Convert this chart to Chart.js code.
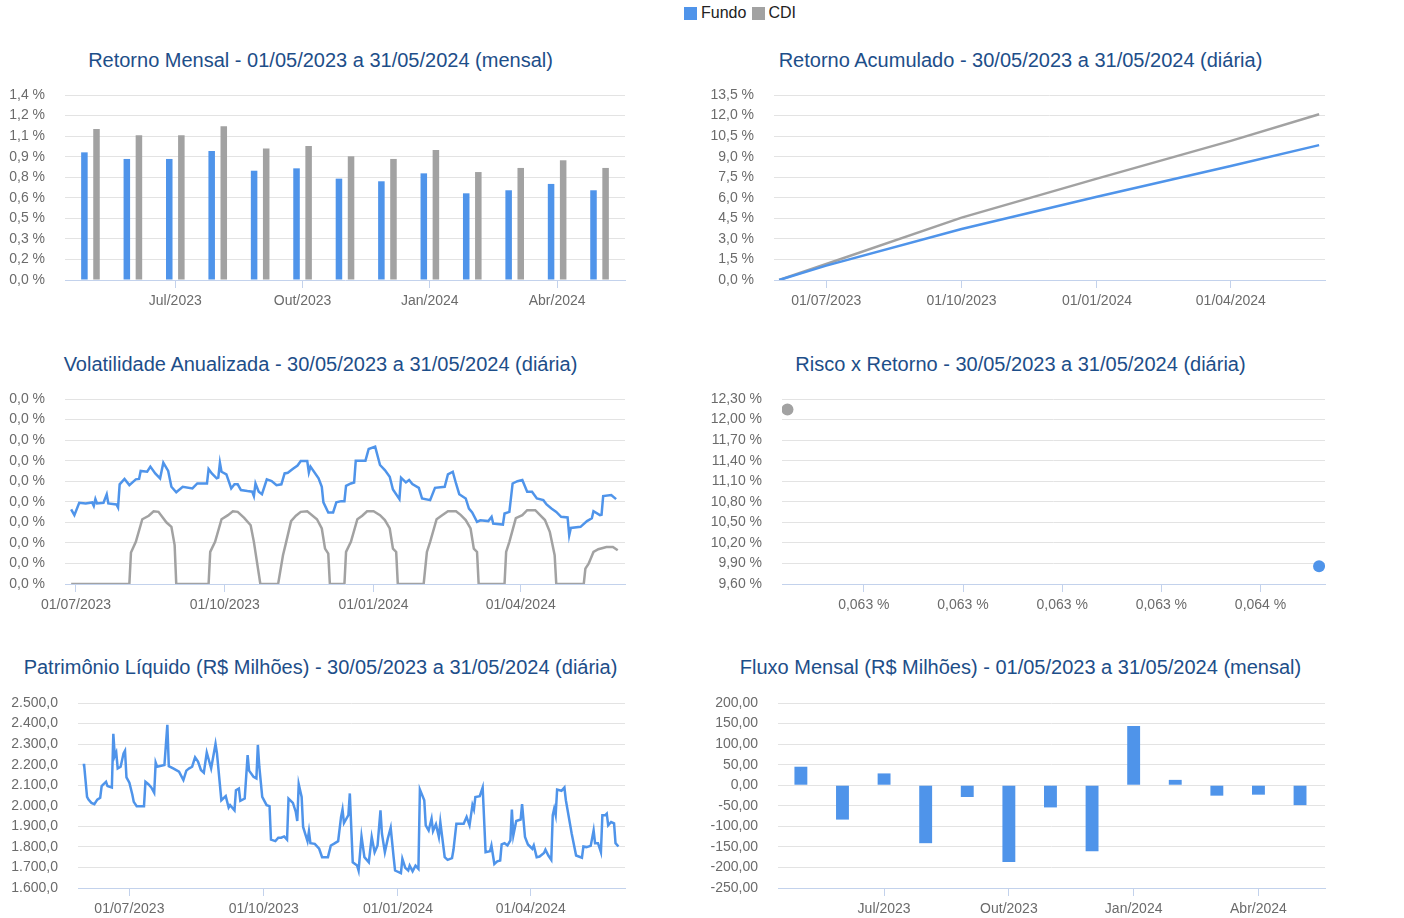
<!DOCTYPE html>
<html><head><meta charset="utf-8">
<script src="https://cdn.jsdelivr.net/npm/chart.js@4.4.1/dist/chart.umd.min.js"></script>
<style>
html,body{margin:0;padding:0;background:#fff;width:1404px;height:918px;overflow:hidden;font-family:"Liberation Sans",Arial,sans-serif;}
canvas{position:absolute;}
.title{position:absolute;width:641px;text-align:center;font-size:20px;line-height:24px;color:#1d4e89;white-space:nowrap;}
.legend{position:absolute;left:684px;top:3px;font-size:16px;line-height:20px;color:#222;display:flex;align-items:center;white-space:nowrap;}
.sw{display:inline-block;width:13px;height:13px;}
</style></head><body>
<div class="legend"><span class="sw" style="background:#4f94ea;margin-right:4px"></span>Fundo<span class="sw" style="background:#a2a2a2;margin-left:6px;margin-right:3px"></span>CDI</div>
<div class="title" style="left:0;top:48px">Retorno Mensal - 01/05/2023 a 31/05/2024 (mensal)</div>
<div class="title" style="left:700px;top:48px">Retorno Acumulado - 30/05/2023 a 31/05/2024 (diária)</div>
<div class="title" style="left:0;top:352px">Volatilidade Anualizada - 30/05/2023 a 31/05/2024 (diária)</div>
<div class="title" style="left:700px;top:352px">Risco x Retorno - 30/05/2023 a 31/05/2024 (diária)</div>
<div class="title" style="left:0;top:655px">Patrimônio Líquido (R$ Milhões) - 30/05/2023 a 31/05/2024 (diária)</div>
<div class="title" style="left:700px;top:655px">Fluxo Mensal (R$ Milhões) - 01/05/2023 a 31/05/2024 (mensal)</div>
<canvas id="c1" width="635" height="240" style="left:0;top:80px"></canvas>
<canvas id="c2" width="635" height="240" style="left:700px;top:80px"></canvas>
<canvas id="c3" width="635" height="240" style="left:0;top:384px"></canvas>
<canvas id="c4" width="635" height="240" style="left:700px;top:384px"></canvas>
<canvas id="c5" width="635" height="240" style="left:0;top:688px"></canvas>
<canvas id="c6" width="635" height="240" style="left:700px;top:688px"></canvas>
<script>
// ---------- DATA ----------
const months = ['Mai/2023','Jun/2023','Jul/2023','Ago/2023','Set/2023','Out/2023','Nov/2023','Dez/2023','Jan/2024','Fev/2024','Mar/2024','Abr/2024','Mai/2024'];
const monthTickIdx = [2,5,8,11];
const retFundo = [0.966,0.916,0.916,0.976,0.827,0.845,0.767,0.747,0.807,0.656,0.679,0.727,0.679];
const retCDI   = [1.143,1.095,1.095,1.163,0.996,1.014,0.936,0.916,0.984,0.817,0.848,0.906,0.848];
const retTicksY = [0,0.1556,0.3111,0.4667,0.6222,0.7778,0.9333,1.0889,1.2444,1.4];

const acumDates = ['2023-05-30','2023-07-01','2023-10-01','2024-01-01','2024-04-01','2024-05-31'];
const acumFundo = [0,1.05,3.72,6.08,8.32,9.84];
const acumCDI   = [0,1.17,4.55,7.40,10.15,12.10];
const acumTicksY = [0,1.5,3,4.5,6,7.5,9,10.5,12,13.5];

const dateTicks = ['2023-07-01','2023-10-01','2024-01-01','2024-04-01'];
const dateTickLabels = ['01/07/2023','01/10/2023','01/01/2024','01/04/2024'];

const volFundoDates = ['2023-06-28','2023-06-30','2023-07-03','2023-07-07','2023-07-11','2023-07-12','2023-07-13','2023-07-14','2023-07-18','2023-07-20','2023-07-21','2023-07-26','2023-07-27','2023-07-28','2023-07-31','2023-08-03','2023-08-07','2023-08-09','2023-08-10','2023-08-14','2023-08-16','2023-08-19','2023-08-22','2023-08-24','2023-08-27','2023-08-29','2023-09-01','2023-09-05','2023-09-11','2023-09-14','2023-09-20','2023-09-21','2023-09-23','2023-09-26','2023-09-27','2023-09-28','2023-09-29','2023-10-02','2023-10-05','2023-10-07','2023-10-09','2023-10-11','2023-10-15','2023-10-18','2023-10-19','2023-10-20','2023-10-22','2023-10-24','2023-10-27','2023-10-30','2023-11-02','2023-11-05','2023-11-07','2023-11-09','2023-11-12','2023-11-15','2023-11-17','2023-11-21','2023-11-22','2023-11-23','2023-11-28','2023-11-30','2023-12-01','2023-12-04','2023-12-07','2023-12-09','2023-12-12','2023-12-14','2023-12-15','2023-12-18','2023-12-20','2023-12-21','2023-12-27','2023-12-29','2024-01-02','2024-01-05','2024-01-08','2024-01-11','2024-01-13','2024-01-17','2024-01-18','2024-01-21','2024-01-23','2024-01-25','2024-01-29','2024-01-31','2024-02-05','2024-02-08','2024-02-14','2024-02-16','2024-02-19','2024-02-21','2024-02-23','2024-02-27','2024-02-29','2024-03-02','2024-03-05','2024-03-07','2024-03-12','2024-03-14','2024-03-15','2024-03-21','2024-03-22','2024-03-25','2024-03-27','2024-03-30','2024-04-02','2024-04-05','2024-04-08','2024-04-11','2024-04-15','2024-04-17','2024-04-20','2024-04-23','2024-04-26','2024-04-30','2024-05-01','2024-05-02','2024-05-08','2024-05-12','2024-05-15','2024-05-16','2024-05-20','2024-05-21','2024-05-22','2024-05-27','2024-05-30'];
const volFundo = [0.00363,0.00335,0.00395,0.00392,0.00397,0.00380,0.00413,0.00392,0.00395,0.00436,0.00392,0.00387,0.00372,0.00485,0.00511,0.00481,0.00509,0.00511,0.00550,0.00546,0.00571,0.00538,0.00514,0.00590,0.00550,0.00473,0.00446,0.00473,0.00465,0.00489,0.00489,0.00559,0.00538,0.00514,0.00517,0.00590,0.00546,0.00533,0.00465,0.00485,0.00485,0.00457,0.00452,0.00449,0.00428,0.00489,0.00449,0.00437,0.00509,0.00501,0.00481,0.00485,0.00538,0.00541,0.00559,0.00576,0.00598,0.00598,0.00543,0.00571,0.00514,0.00473,0.00397,0.00348,0.00348,0.00397,0.00403,0.00403,0.00478,0.00489,0.00494,0.00600,0.00600,0.00657,0.00668,0.00579,0.00554,0.00522,0.00460,0.00413,0.00517,0.00494,0.00506,0.00486,0.00468,0.00416,0.00408,0.00468,0.00473,0.00533,0.00546,0.00489,0.00437,0.00416,0.00367,0.00348,0.00302,0.00310,0.00306,0.00327,0.00294,0.00289,0.00343,0.00351,0.00489,0.00500,0.00506,0.00449,0.00449,0.00416,0.00408,0.00387,0.00367,0.00351,0.00327,0.00324,0.00237,0.00273,0.00278,0.00306,0.00320,0.00354,0.00335,0.00337,0.00428,0.00433,0.00413];

const volCdiDates = ['2023-06-28','2023-08-03','2023-08-04','2023-08-07','2023-08-11','2023-08-15','2023-08-18','2023-08-21','2023-08-26','2023-08-29','2023-08-31','2023-09-01','2023-09-21','2023-09-22','2023-09-25','2023-09-29','2023-10-03','2023-10-06','2023-10-09','2023-10-13','2023-10-17','2023-10-19','2023-10-23','2023-11-03','2023-11-06','2023-11-08','2023-11-11','2023-11-14','2023-11-17','2023-11-21','2023-11-27','2023-11-30','2023-12-02','2023-12-04','2023-12-05','2023-12-14','2023-12-15','2023-12-18','2023-12-22','2023-12-25','2023-12-28','2024-01-01','2024-01-05','2024-01-08','2024-01-11','2024-01-13','2024-01-15','2024-01-16','2024-02-01','2024-02-03','2024-02-05','2024-02-09','2024-02-12','2024-02-16','2024-02-21','2024-02-24','2024-02-27','2024-03-01','2024-03-03','2024-03-05','2024-03-06','2024-03-22','2024-03-23','2024-03-25','2024-03-29','2024-04-02','2024-04-05','2024-04-10','2024-04-13','2024-04-16','2024-04-19','2024-04-22','2024-04-23','2024-05-10','2024-05-11','2024-05-13','2024-05-16','2024-05-19','2024-05-24','2024-05-28','2024-05-31'];
const volCdi = [0,0,0.00153,0.00205,0.00315,0.00332,0.00354,0.00351,0.00299,0.00278,0.00189,0,0,0.00156,0.00205,0.00315,0.00335,0.00354,0.00351,0.00322,0.00286,0.00205,0,0,0.00140,0.00205,0.00306,0.00332,0.00351,0.00354,0.00315,0.00270,0.00172,0.00148,0,0,0.00156,0.00205,0.00315,0.00332,0.00354,0.00354,0.00335,0.00311,0.00270,0.00172,0.00156,0,0,0.00156,0.00205,0.00315,0.00332,0.00354,0.00354,0.00335,0.00311,0.00270,0.00172,0.00156,0,0,0.00156,0.00205,0.00320,0.00335,0.00359,0.00359,0.00335,0.00311,0.00254,0.00140,0,0,0.00075,0.00099,0.00156,0.00169,0.00180,0.00180,0.00164];
const volTicksY = [0,0.001,0.002,0.003,0.004,0.005,0.006,0.007,0.008,0.009];

const riscoX = [0.063718, 0.062646];   // Fundo, CDI
const riscoY = [9.86, 12.147];
const riscoTicksX = [0.0628,0.0630,0.0632,0.0634,0.0636];
const riscoTicksY = [9.6,9.9,10.2,10.5,10.8,11.1,11.4,11.7,12.0,12.3];

const plDates = ['2023-05-30','2023-05-31','2023-06-02','2023-06-03','2023-06-05','2023-06-07','2023-06-09','2023-06-11','2023-06-12','2023-06-15','2023-06-16','2023-06-19','2023-06-20','2023-06-21','2023-06-22','2023-06-23','2023-06-25','2023-06-27','2023-06-28','2023-06-29','2023-07-01','2023-07-03','2023-07-04','2023-07-06','2023-07-11','2023-07-12','2023-07-14','2023-07-16','2023-07-18','2023-07-19','2023-07-20','2023-07-25','2023-07-27','2023-07-28','2023-07-31','2023-08-04','2023-08-07','2023-08-09','2023-08-11','2023-08-13','2023-08-15','2023-08-17','2023-08-19','2023-08-21','2023-08-23','2023-08-26','2023-08-29','2023-08-30','2023-09-02','2023-09-05','2023-09-07','2023-09-08','2023-09-11','2023-09-12','2023-09-14','2023-09-15','2023-09-18','2023-09-20','2023-09-21','2023-09-24','2023-09-26','2023-09-27','2023-09-28','2023-09-30','2023-10-03','2023-10-05','2023-10-06','2023-10-09','2023-10-11','2023-10-13','2023-10-15','2023-10-17','2023-10-18','2023-10-21','2023-10-23','2023-10-24','2023-10-25','2023-10-27','2023-10-28','2023-10-31','2023-11-01','2023-11-02','2023-11-05','2023-11-08','2023-11-10','2023-11-14','2023-11-16','2023-11-18','2023-11-21','2023-11-23','2023-11-24','2023-11-25','2023-11-28','2023-11-29','2023-12-01','2023-12-04','2023-12-05','2023-12-07','2023-12-09','2023-12-12','2023-12-14','2023-12-16','2023-12-18','2023-12-20','2023-12-21','2023-12-23','2023-12-25','2023-12-27','2023-12-29','2023-12-30','2024-01-03','2024-01-04','2024-01-06','2024-01-08','2024-01-09','2024-01-11','2024-01-13','2024-01-15','2024-01-16','2024-01-19','2024-01-20','2024-01-22','2024-01-24','2024-01-25','2024-01-27','2024-01-29','2024-01-30','2024-02-02','2024-02-04','2024-02-07','2024-02-08','2024-02-10','2024-02-15','2024-02-17','2024-02-19','2024-02-21','2024-02-22','2024-02-23','2024-02-26','2024-02-28','2024-03-01','2024-03-04','2024-03-05','2024-03-07','2024-03-09','2024-03-11','2024-03-12','2024-03-14','2024-03-16','2024-03-18','2024-03-19','2024-03-20','2024-03-22','2024-03-25','2024-03-26','2024-03-28','2024-03-30','2024-04-02','2024-04-03','2024-04-05','2024-04-07','2024-04-10','2024-04-11','2024-04-13','2024-04-15','2024-04-16','2024-04-17','2024-04-18','2024-04-19','2024-04-22','2024-04-24','2024-04-25','2024-04-29','2024-05-02','2024-05-06','2024-05-07','2024-05-09','2024-05-12','2024-05-14','2024-05-15','2024-05-17','2024-05-19','2024-05-20','2024-05-22','2024-05-23','2024-05-24','2024-05-26','2024-05-28','2024-05-29','2024-05-31'];
const plFundo = [2198,2198,2043,2030,2014,2008,2030,2039,2096,2117,2096,2089,2350,2242,2259,2182,2190,2255,2268,2138,2112,2055,2019,1998,1998,2117,2105,2089,2063,2210,2190,2198,2394,2193,2182,2166,2125,2171,2182,2190,2236,2215,2174,2161,2259,2182,2301,2255,2027,2047,1991,2003,1978,2076,2084,2024,2035,2247,2171,2141,2133,2296,2190,2043,2003,1998,1835,1828,1845,1845,1851,1835,2035,2014,1970,1926,2105,2043,1897,1828,1876,1818,1815,1791,1750,1750,1807,1815,1828,1946,1982,1916,1954,2060,1725,1709,1685,1851,1750,1725,1848,1774,1807,1978,1864,1774,1840,1893,1750,1685,1672,1742,1698,1685,1709,1681,1709,1693,2079,2027,1905,1880,1937,1877,1910,1848,1921,1750,1737,1745,1786,1913,1913,1946,1905,2003,1982,2043,2047,2089,1774,1779,1807,1717,1730,1734,1812,1818,1807,1832,1982,1856,1926,1933,2008,1848,1812,1791,1807,1750,1753,1770,1786,1758,1737,1954,1986,1955,2079,2073,2089,2027,1864,1758,1747,1802,1799,1805,1880,1818,1818,1774,1954,1955,1962,1905,1921,1915,1818,1802];
const plTicksY = [1600,1700,1800,1900,2000,2100,2200,2300,2400,2500];

const fluxo = [45,-83.6,28.7,-141,-28.7,-187,-54,-160.6,144,13,-25.4,-23,-48.4];
const fluxoTicksY = [-250,-200,-150,-100,-50,0,50,100,150,200];

// ---------- HELPERS ----------
const BLUE='#4f94ea', GRAY='#a2a2a2', GRID='#e3e3e3', AXIS='#c3d2ec', TICK='#6b6b6b';
const FONT={family:'"Liberation Sans", Arial, sans-serif', size:14};
const DAY0 = Date.UTC(2023,4,30);
function dayOf(s){const p=s.split('-').map(Number);return (Date.UTC(p[0],p[1]-1,p[2])-DAY0)/86400000;}
function fmtBR(v,dec){const s=Math.abs(v).toFixed(dec);const parts=s.split('.');const i=parts[0].replace(/\B(?=(\d{3})+(?!\d))/g,'.');return (v<0&&Number(s)!==0?'-':'')+i+(dec?','+parts[1]:'');}
function pts(xs,ys,conv){return ys.map((y,i)=>({x:conv?conv(xs[i]):xs[i],y}));}

function makeChart(id,type,datasets,o){
  return new Chart(document.getElementById(id),{
    type,data:{datasets},
    options:{
      responsive:false,animation:false,devicePixelRatio:1,
      layout:{padding:{top:15,right:10,left:0,bottom:0}},
      plugins:{legend:{display:false},tooltip:{enabled:false},title:{display:false}},
      elements:{point:{radius:0},line:{tension:0}},
      scales:{
        x:{type:'linear',min:o.xMin,max:o.xMax,offset:false,
          afterBuildTicks:s=>{s.ticks=o.xTicks.map(v=>({value:v}));},
          afterFit:s=>{s.height=40;},
          ticks:{callback:(v,i)=>o.xLabels[i],font:FONT,color:TICK,padding:5,maxRotation:0,autoSkip:false},
          grid:{drawOnChartArea:false,drawTicks:true,tickLength:8,color:AXIS,lineWidth:1,offset:false},
          border:{display:true,color:AXIS,width:1}},
        y:{type:'linear',min:o.yMin,max:o.yMax,
          afterBuildTicks:s=>{s.ticks=o.yTicks.map(v=>({value:v}));},
          afterFit:s=>{s.width=o.yW;},
          ticks:{callback:v=>o.yFmt(v),font:FONT,color:TICK,padding:0,autoSkip:false},
          grid:{color:c=>c.index===0?'rgba(0,0,0,0)':GRID,lineWidth:1,drawTicks:true,tickLength:20,tickColor:'rgba(0,0,0,0)'},
          border:{display:false}}
      }
    }
  });
}
const dTicks = dateTicks.map(dayOf);
const LW = 2.5;

// 1. Retorno Mensal
makeChart('c1','bar',[
  {data:pts(months.map((m,i)=>i),retFundo),backgroundColor:BLUE,borderWidth:0,categoryPercentage:0.57,barPercentage:0.54},
  {data:pts(months.map((m,i)=>i),retCDI),backgroundColor:GRAY,borderWidth:0,categoryPercentage:0.57,barPercentage:0.54}
],{yW:65,xMin:-0.6,xMax:12.6,xTicks:monthTickIdx,xLabels:monthTickIdx.map(i=>months[i]),
   yMin:0,yMax:1.4,yTicks:retTicksY,yFmt:v=>fmtBR(v,1)+' %'});

// 2. Retorno Acumulado
makeChart('c2','line',[
  {data:pts(acumDates,acumFundo,dayOf),borderColor:BLUE,borderWidth:LW},
  {data:pts(acumDates,acumCDI,dayOf),borderColor:GRAY,borderWidth:LW}
],{yW:74,xMin:-3.5,xMax:371,xTicks:dTicks,xLabels:dateTickLabels,
   yMin:0,yMax:13.5,yTicks:acumTicksY,yFmt:v=>fmtBR(v,1)+' %'});

// 3. Volatilidade
makeChart('c3','line',[
  {data:pts(volFundoDates,volFundo,dayOf),borderColor:BLUE,borderWidth:LW},
  {data:pts(volCdiDates,volCdi,dayOf),borderColor:GRAY,borderWidth:LW}
],{yW:65,xMin:25.2,xMax:371.5,xTicks:dTicks,xLabels:dateTickLabels,
   yMin:0,yMax:0.009,yTicks:volTicksY,yFmt:v=>fmtBR(v,1)+' %'});

// 4. Risco x Retorno
makeChart('c4','scatter',[
  {data:[{x:riscoX[0],y:riscoY[0]}],backgroundColor:BLUE,borderWidth:0,pointRadius:6},
  {data:[{x:riscoX[1],y:riscoY[1]}],backgroundColor:GRAY,borderWidth:0,pointRadius:6}
],{yW:82,xMin:0.062635,xMax:0.06373,xTicks:riscoTicksX,xLabels:riscoTicksX.map(v=>fmtBR(v,3)+' %'),
   yMin:9.6,yMax:12.3,yTicks:riscoTicksY,yFmt:v=>fmtBR(v,2)+' %'});

// 5. Patrimônio Líquido
makeChart('c5','line',[
  {data:pts(plDates,plFundo,dayOf),borderColor:BLUE,borderWidth:LW}
],{yW:78,xMin:-3.2,xMax:371.5,xTicks:dTicks,xLabels:dateTickLabels,
   yMin:1600,yMax:2500,yTicks:plTicksY,yFmt:v=>fmtBR(v,1)});

// 6. Fluxo Mensal
makeChart('c6','bar',[
  {data:pts(months.map((m,i)=>i),fluxo),backgroundColor:BLUE,borderWidth:0,categoryPercentage:1,barPercentage:0.31}
],{yW:78,xMin:-0.55,xMax:12.6,xTicks:monthTickIdx,xLabels:monthTickIdx.map(i=>months[i]),
   yMin:-250,yMax:200,yTicks:fluxoTicksY,yFmt:v=>fmtBR(v,2)});
</script>
</body></html>
